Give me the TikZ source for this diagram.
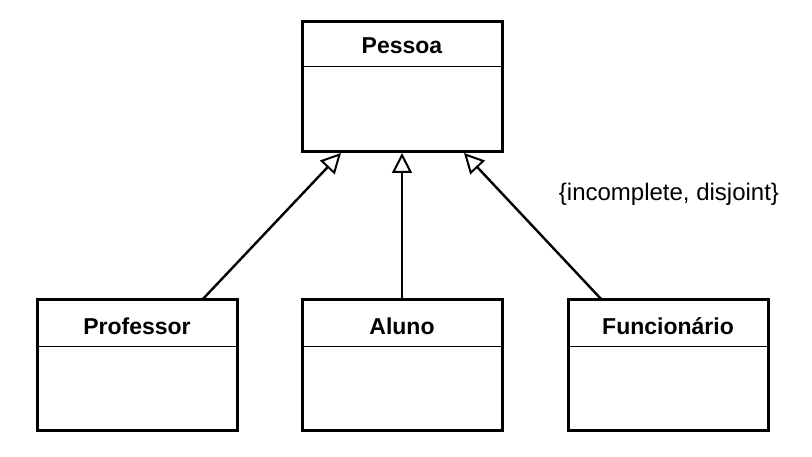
\documentclass[tikz,border=0pt]{standalone}
\usepackage{fontspec}
\setmainfont{Liberation Sans}
\usetikzlibrary{arrows.meta}
\begin{document}
\begin{tikzpicture}[x=1pt,y=1pt,
  cls/.style={draw,line width=3pt,minimum width=200pt,minimum height=130pt,inner sep=0pt},
  gen/.style={line width=2.4pt,-{Triangle[open,length=20pt,width=20pt,line width=2pt]}},
  ttl/.style={font=\fontsize{23}{27}\selectfont\bfseries}]
\useasboundingbox (0,0) rectangle (812,-457);
\node[cls] (p) at (402,-87) {};
\draw[line width=1.4pt] ([yshift=-46pt]p.north west) -- ([yshift=-46pt]p.north east);
\node[ttl] (pt) at (402,-46) {Pessoa};
\foreach \n/\x/\t in {pr/137/Professor,al/402/Aluno,fu/668/Funcionário}{
  \node[cls] (\n) at (\x,-365) {};
  \draw[line width=1.4pt] ([yshift=-48pt]\n.north west) -- ([yshift=-48pt]\n.north east);
  \node[ttl] (\n t) at (\x,-326) {\t};
}
\coordinate (a1) at (341,-153);
\coordinate (a2) at (402,-153);
\coordinate (a3) at (464,-153);
\coordinate (s1) at (202,-300);
\coordinate (s3) at (602,-300);
\draw[gen] (s1) -- (a1);
\draw[gen] (al.north) -- (a2);
\draw[gen] (s3) -- (a3);
\node[font=\fontsize{24}{28}\selectfont] (lbl) at (669,-194) {\{incomplete, disjoint\}};
\end{tikzpicture}
\end{document}
